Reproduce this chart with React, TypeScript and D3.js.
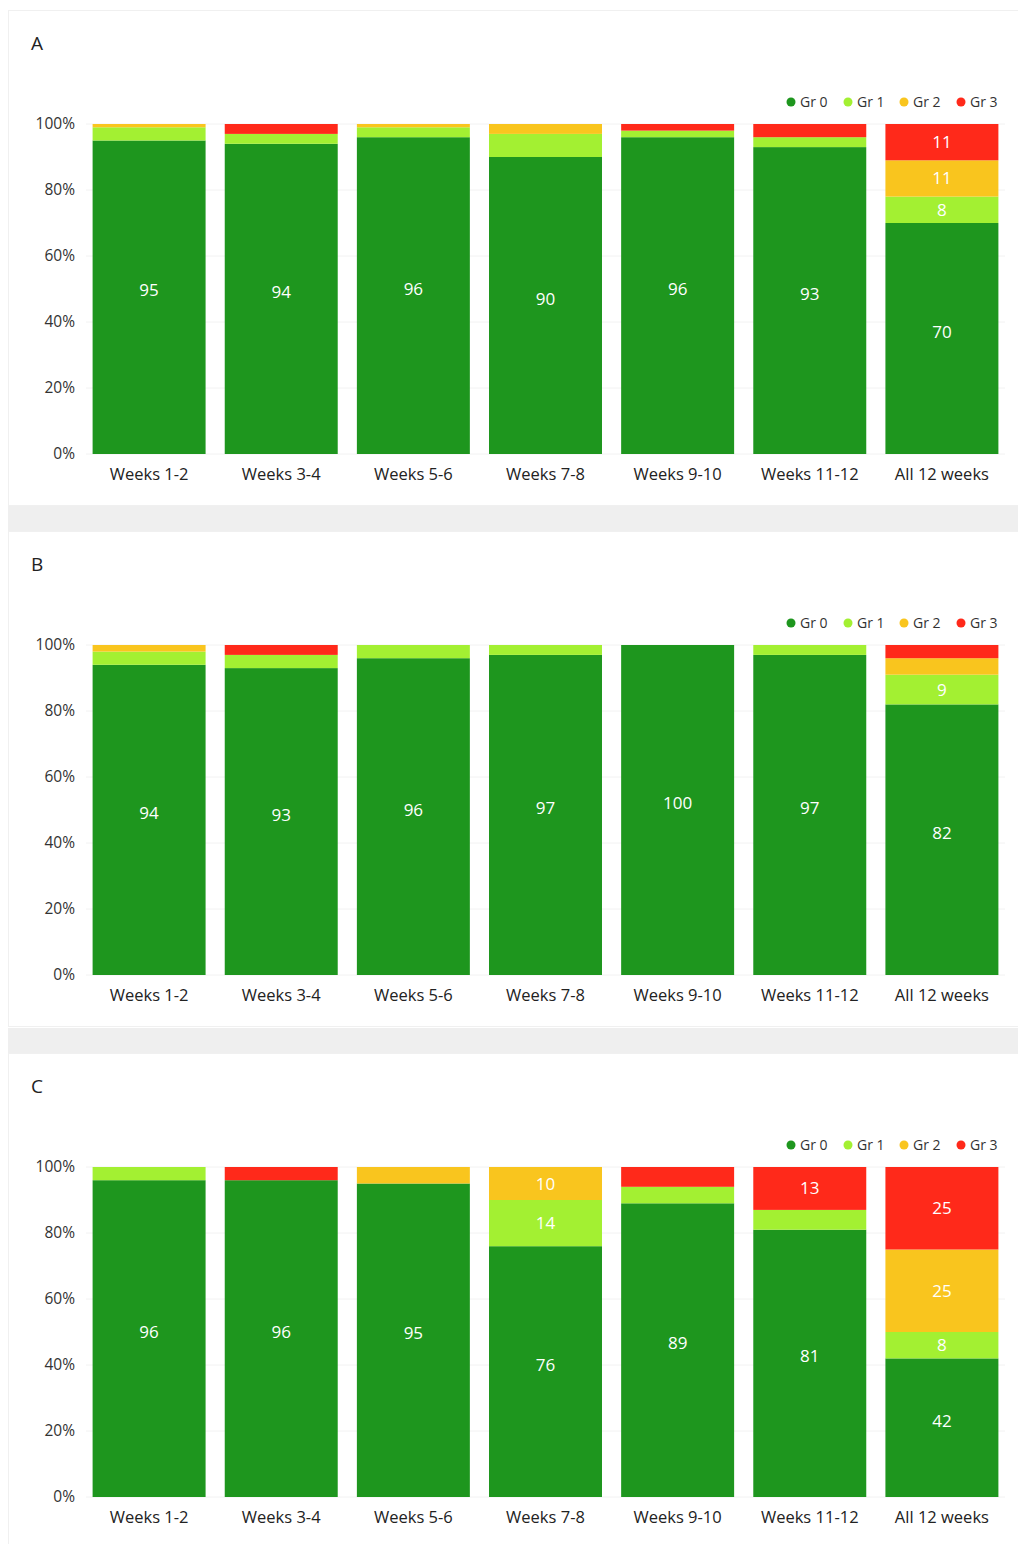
import { useEffect, useRef } from 'react';
import * as d3 from 'd3';

const categories = ['Weeks 1-2', 'Weeks 3-4', 'Weeks 5-6', 'Weeks 7-8', 'Weeks 9-10', 'Weeks 11-12', 'All 12 weeks'];
const grades = ['Gr 0', 'Gr 1', 'Gr 2', 'Gr 3'];
const colors = ['#1e961e', '#a3f032', '#f9c51e', '#ff291a'];
const yTicks = [0, 20, 40, 60, 80, 100];

// rows: Gr0, Gr1, Gr2, Gr3 per category
const panelA = [
  [95, 94, 96, 90, 96, 93, 70],
  [4, 3, 3, 7, 2, 3, 8],
  [1, 0, 1, 3, 0, 0, 11],
  [0, 3, 0, 0, 2, 4, 11],
];
const panelB = [
  [94, 93, 96, 97, 100, 97, 82],
  [4, 4, 4, 3, 0, 3, 9],
  [2, 0, 0, 0, 0, 0, 5],
  [0, 3, 0, 0, 0, 0, 4],
];
const panelC = [
  [96, 96, 95, 76, 89, 81, 42],
  [4, 0, 0, 14, 5, 6, 8],
  [0, 0, 5, 10, 0, 0, 25],
  [0, 4, 0, 0, 6, 13, 25],
];
const panels = [
  { name: 'A', data: panelA },
  { name: 'B', data: panelB },
  { name: 'C', data: panelC },
];

const W = 1018;
const H = 1544;
const panelTop = [10, 531, 1053];
const font = '"Open Sans", sans-serif';

export default function App() {
  const ref = useRef<SVGSVGElement>(null);

  useEffect(() => {
    if (!ref.current) return;
    const svg = d3.select(ref.current);
    svg.selectAll('*').remove();

    svg.append('rect').attr('width', W).attr('height', H).attr('fill', '#fff');

    const x = d3.scaleBand().domain(categories).range([86, 1005]).paddingInner(0.145).paddingOuter(0.05);

    panels.forEach((p, pi) => {
      const top = panelTop[pi];
      if (pi > 0) {
        svg.append('rect').attr('x', 8).attr('y', top - 25).attr('width', W - 8).attr('height', 25).attr('fill', '#efefef');
      }
      svg.append('rect').attr('x', 8.5).attr('y', top + 0.5).attr('width', W).attr('height', pi < 2 ? 495 : 500)
        .attr('fill', '#fff').attr('stroke', '#f0f0f0');

      const g = svg.append('g').attr('transform', `translate(0,${top})`);
      g.append('text').attr('x', 31).attr('y', 40).text(p.name)
        .style('font-family', font).style('font-size', '19px').style('fill', '#222');

      const y = d3.scaleLinear().domain([0, 100]).range([444, 114]);

      yTicks.forEach(t => {
        g.append('line').attr('x1', 86).attr('x2', 1005).attr('y1', y(t)).attr('y2', y(t)).attr('stroke', '#f2f2f2');
        g.append('text').attr('x', 75).attr('y', y(t) + 5).attr('text-anchor', 'end').text(`${t}%`)
          .style('font-family', font).style('font-size', '15.5px').style('fill', '#333');
      });

      const stacked = d3.stack<number>().keys(grades.map((_, i) => String(i)))
        .value((d, k) => p.data[+k][d])(categories.map((_, i) => i));

      stacked.forEach((layer, gi) => {
        layer.forEach((seg, ci) => {
          const v = seg[1] - seg[0];
          if (v <= 0) return;
          g.append('rect').attr('x', x(categories[ci])!).attr('width', x.bandwidth())
            .attr('y', y(seg[1])).attr('height', y(seg[0]) - y(seg[1])).attr('fill', colors[gi]);
          if (v >= 8) {
            const shift = v > 30 ? -7 : 0;
            g.append('text').attr('x', x(categories[ci])! + x.bandwidth() / 2)
              .attr('y', (y(seg[0]) + y(seg[1])) / 2 + 6 + shift).attr('text-anchor', 'middle').text(v)
              .style('font-family', font).style('font-size', '17px').style('fill', '#fff');
          }
        });
      });

      categories.forEach(c => {
        g.append('text').attr('x', x(c)! + x.bandwidth() / 2).attr('y', 470).attr('text-anchor', 'middle').text(c)
          .style('font-family', font).style('font-size', '16.5px').style('fill', '#222');
      });

      const legendX = [791, 848, 904, 961];
      grades.forEach((gr, i) => {
        g.append('circle').attr('cx', legendX[i]).attr('cy', 92).attr('r', 4.5).attr('fill', colors[i]);
        g.append('text').attr('x', legendX[i] + 9).attr('y', 97).text(gr)
          .style('font-family', font).style('font-size', '14px').style('fill', '#333');
      });
    });
  }, []);

  return (
    <div style={{ position: 'absolute', left: 0, top: 0 }}>
      <svg ref={ref} width={W} height={H} style={{ display: 'block' }} />
    </div>
  );
}
